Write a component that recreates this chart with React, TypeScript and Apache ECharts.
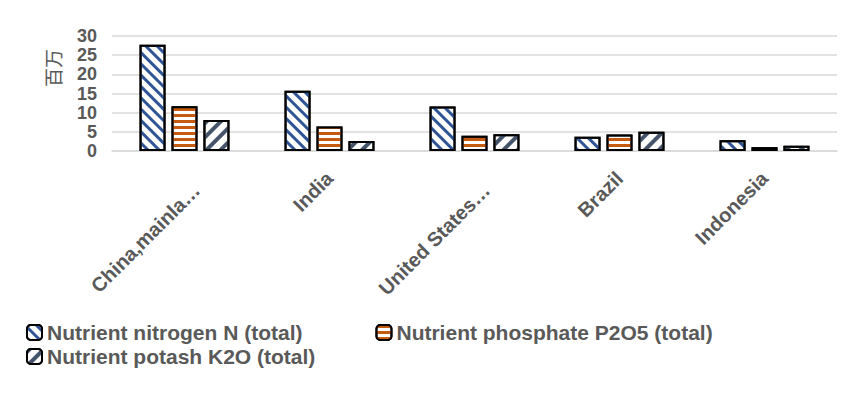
import React, { useEffect, useRef } from "react";
import * as echarts from "echarts";

const categories = ["China,mainla…", "India", "United States…", "Brazil", "Indonesia"];
const nitrogen = [27.7, 15.7, 11.6, 3.7, 2.8];
const phosphate = [11.7, 6.4, 4.0, 4.3, 1.0];
const potash = [8.1, 2.6, 4.4, 5.0, 1.4];
const seriesNames = [
  "Nutrient nitrogen N (total)",
  "Nutrient phosphate P2O5 (total)",
  "Nutrient potash K2O (total)",
];

const textColor = "#595959";
const font = "'Liberation Sans', Arial, sans-serif";

// truncated labels sit a little lower/right in the reference
const loweredLabels = ["China,mainla…", "United States…"];

function makeStyle(color: string, rotation: number, dashY: number[]) {
  return {
    color: "#ffffff",
    borderColor: "#000000",
    borderWidth: 2,
    decal: {
      symbol: "rect",
      symbolSize: 1,
      dashArrayX: [1, 0],
      dashArrayY: dashY,
      rotation,
      color,
    },
  };
}

export default function App() {
  const ref = useRef<HTMLDivElement>(null);
  useEffect(() => {
    if (!ref.current) return;
    const chart = echarts.init(ref.current, null, { renderer: "svg" });
    const styles = [
      makeStyle("#2F5597", Math.PI / 4, [3, 5]),
      makeStyle("#C55A11", 0, [3, 3]),
      makeStyle("#44546A", -Math.PI / 4, [4, 6]),
    ];
    const values = [nitrogen, phosphate, potash];
    const legendText = { color: textColor, fontSize: 21, fontWeight: "bold", fontFamily: font };
    chart.setOption({
      animation: false,
      backgroundColor: "#ffffff",
      textStyle: { fontFamily: font },
      grid: { left: 112, right: 28, top: 36, bottom: 250, containLabel: false },
      legend: [
        {
          data: [seriesNames[0], seriesNames[1]],
          left: 21,
          top: 317,
          itemWidth: 15,
          itemHeight: 15,
          itemGap: 73,
          textStyle: legendText,
        },
        {
          data: [seriesNames[2]],
          left: 21,
          top: 341,
          itemWidth: 15,
          itemHeight: 15,
          textStyle: legendText,
        },
      ],
      xAxis: {
        type: "category",
        data: categories,
        axisLine: { show: true, lineStyle: { color: "#d9d9d9", width: 1.5 } },
        axisTick: { show: false },
        axisLabel: {
          rotate: 45,
          interval: 0,
          margin: 24,
          lineHeight: 17,
          color: textColor,
          fontSize: 20,
          fontWeight: "bold",
          fontFamily: font,
          formatter: (v: string) => (loweredLabels.includes(v) ? "\n\n" + v : v),
        },
      },
      yAxis: {
        type: "value",
        min: 0,
        max: 30,
        interval: 5,
        axisLine: { show: false },
        axisTick: { show: false },
        splitLine: { lineStyle: { color: "#d9d9d9", width: 1.5 } },
        axisLabel: {
          margin: 15,
          color: textColor,
          fontSize: 18,
          lineHeight: 18,
          fontWeight: "bold",
          fontFamily: font,
          showMinLabel: true,
          showMaxLabel: true,
          hideOverlap: false,
        },
      },
      graphic: [
        {
          type: "text",
          x: 52,
          y: 68,
          rotation: Math.PI / 2,
          style: {
            text: "百万",
            fill: textColor,
            font: "19px 'Noto Sans CJK SC', sans-serif",
            align: "center",
            verticalAlign: "middle",
          },
        },
      ],
      series: seriesNames.map((name, i) => ({
        name,
        type: "bar",
        data: values[i],
        barGap: "23%",
        barCategoryGap: "38%",
        itemStyle: styles[i],
      })),
    });
    return () => chart.dispose();
  }, []);
  return (
    <div style={{ position: "relative", width: 865, height: 401, margin: -8, background: "#fff" }}>
      <div ref={ref} style={{ position: "absolute", left: 0, top: 0, width: 865, height: 401 }} />
      <div
        style={{
          position: "absolute",
          left: 5,
          top: 7,
          width: 856,
          height: 389,
          border: "1.5px solid #d9d9d9",
          pointerEvents: "none",
          zIndex: 5,
        }}
      />
    </div>
  );
}
